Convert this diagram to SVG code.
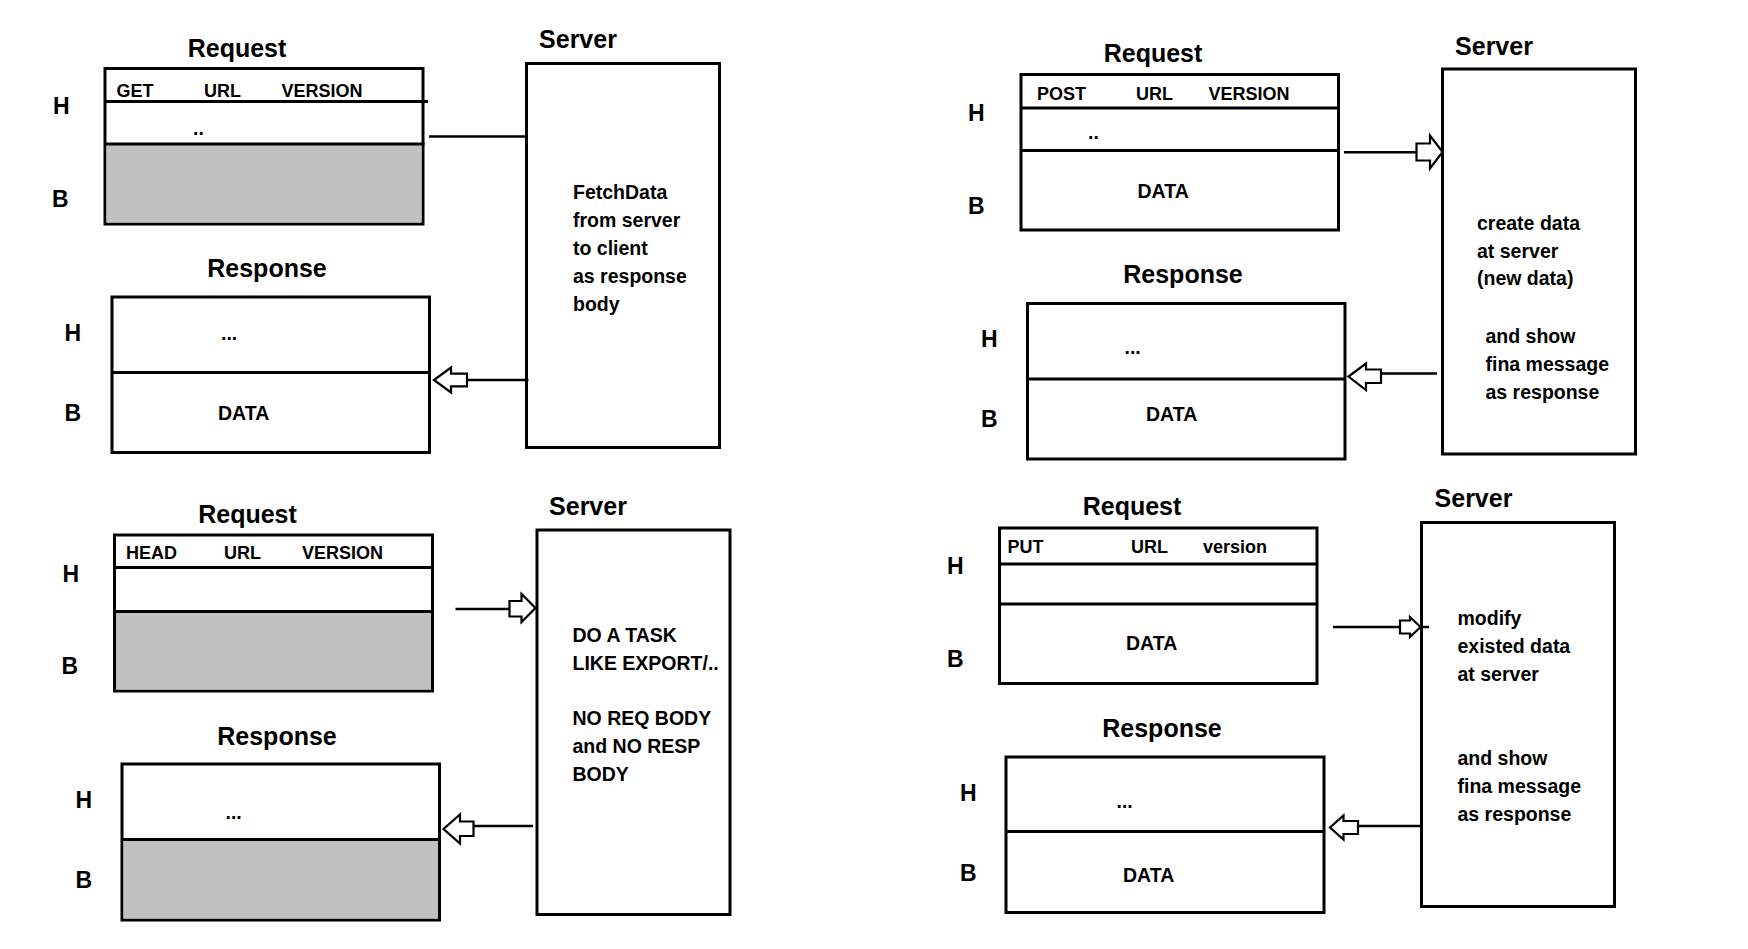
<svg xmlns="http://www.w3.org/2000/svg" width="1748" height="949" viewBox="0 0 1748 949">
<style>
text{font-family:"Liberation Sans",Arial,sans-serif;font-weight:bold;fill:#000}
.title{font-size:25px;text-anchor:middle}
.hb{font-size:23px}
.hdr{font-size:18px}
.cell{font-size:19.5px}
.srv{font-size:19.5px}
.box{fill:#fff;stroke:#000;stroke-width:3}
.gray{fill:#c0c0c0;stroke:none}
.div{stroke:#000;stroke-width:3}
.conn{stroke:#000;stroke-width:2.5;fill:none}
.arrow{fill:#fff;stroke:#000;stroke-width:2.2;stroke-linejoin:miter}
</style>
<rect width="1748" height="949" fill="#fff"/>

<!-- Panel 1: GET -->
<g id="get-request">
<text class="title" x="237" y="57">Request</text>
<rect class="box" x="105" y="68.5" width="318" height="155.5"/>
<rect class="gray" x="106.5" y="144" width="315" height="78.5"/>
<line class="div" x1="105" y1="101.5" x2="428" y2="101.5"/>
<line class="div" x1="105" y1="144" x2="424.5" y2="144"/>
<text class="hdr" x="116.5" y="96.5">GET</text>
<text class="hdr" x="204" y="96.5">URL</text>
<text class="hdr" x="281.5" y="96.5">VERSION</text>
<text class="cell" x="193" y="135">..</text>
<text class="hb" x="53" y="114">H</text>
<text class="hb" x="52" y="207">B</text>
</g>
<g id="get-server">
<text class="title" x="578" y="48">Server</text>
<rect class="box" x="526.5" y="63.5" width="193" height="384"/>
<text class="srv" x="573" y="198.5">FetchData</text>
<text class="srv" x="573" y="226.5">from server</text>
<text class="srv" x="573" y="254.5">to client</text>
<text class="srv" x="573" y="282.5">as response</text>
<text class="srv" x="573" y="310.5">body</text>
</g>
<g id="get-response">
<text class="title" x="267" y="277">Response</text>
<rect class="box" x="112" y="297" width="317.5" height="155.5"/>
<line class="div" x1="112" y1="372.5" x2="429.5" y2="372.5"/>
<text class="cell" x="221" y="340">...</text>
<text class="cell" x="218" y="420">DATA</text>
<text class="hb" x="64.5" y="341">H</text>
<text class="hb" x="64.5" y="421">B</text>
</g>

<!-- Panel 2: POST -->
<g id="post-request">
<text class="title" x="1153" y="61.5">Request</text>
<rect class="box" x="1021" y="74.5" width="317.5" height="155.5"/>
<line class="div" x1="1021" y1="108" x2="1338.5" y2="108"/>
<line class="div" x1="1021" y1="150.5" x2="1338.5" y2="150.5"/>
<text class="hdr" x="1037" y="100">POST</text>
<text class="hdr" x="1136" y="100">URL</text>
<text class="hdr" x="1208.5" y="100">VERSION</text>
<text class="cell" x="1088" y="138.5">..</text>
<text class="cell" x="1137.5" y="197.5">DATA</text>
<text class="hb" x="968" y="120.5">H</text>
<text class="hb" x="968" y="214">B</text>
</g>
<g id="post-server">
<text class="title" x="1494" y="55">Server</text>
<rect class="box" x="1442.5" y="69" width="193" height="385"/>
<text class="srv" x="1477" y="230">create data</text>
<text class="srv" x="1477" y="257.5">at server</text>
<text class="srv" x="1477" y="284.5">(new data)</text>
<text class="srv" x="1485.5" y="343">and show</text>
<text class="srv" x="1485.5" y="371">fina message</text>
<text class="srv" x="1485.5" y="399">as response</text>
</g>
<g id="post-response">
<text class="title" x="1183" y="283">Response</text>
<rect class="box" x="1027.5" y="303.5" width="317.5" height="155.5"/>
<line class="div" x1="1027.5" y1="379" x2="1345" y2="379"/>
<text class="cell" x="1124.5" y="353.5">...</text>
<text class="cell" x="1146" y="420.5">DATA</text>
<text class="hb" x="981" y="346.5">H</text>
<text class="hb" x="981" y="426.5">B</text>
</g>

<!-- Panel 3: HEAD -->
<g id="head-request">
<text class="title" x="247.5" y="523">Request</text>
<rect class="box" x="114.5" y="535" width="318" height="156"/>
<rect class="gray" x="116" y="611.5" width="315" height="78"/>
<line class="div" x1="114.5" y1="567.5" x2="432.5" y2="567.5"/>
<line class="div" x1="114.5" y1="611.5" x2="432.5" y2="611.5"/>
<text class="hdr" x="126" y="559">HEAD</text>
<text class="hdr" x="224" y="559">URL</text>
<text class="hdr" x="302" y="559">VERSION</text>
<text class="hb" x="62.5" y="581.5">H</text>
<text class="hb" x="61.5" y="674">B</text>
</g>
<g id="head-server">
<text class="title" x="588" y="515">Server</text>
<rect class="box" x="537" y="530" width="193" height="384.5"/>
<text class="srv" x="572.5" y="641.5">DO A TASK</text>
<text class="srv" x="572.5" y="669.5">LIKE EXPORT/..</text>
<text class="srv" x="572.5" y="725">NO REQ BODY</text>
<text class="srv" x="572.5" y="753">and NO RESP</text>
<text class="srv" x="572.5" y="781">BODY</text>
</g>
<g id="head-response">
<text class="title" x="277" y="745">Response</text>
<rect class="box" x="122" y="764" width="317.5" height="156"/>
<rect class="gray" x="123.5" y="839.5" width="314.5" height="79"/>
<line class="div" x1="122" y1="839.5" x2="439.5" y2="839.5"/>
<text class="cell" x="225.5" y="818.5">...</text>
<text class="hb" x="75.5" y="808">H</text>
<text class="hb" x="75.5" y="887.5">B</text>
</g>

<!-- Panel 4: PUT -->
<g id="put-request">
<text class="title" x="1132" y="515">Request</text>
<rect class="box" x="999.5" y="528" width="317.5" height="155.5"/>
<line class="div" x1="999.5" y1="564" x2="1317" y2="564"/>
<line class="div" x1="999.5" y1="604" x2="1317" y2="604"/>
<text class="hdr" x="1007.5" y="552.5">PUT</text>
<text class="hdr" x="1131" y="552.5">URL</text>
<text class="hdr" x="1203" y="552.5">version</text>
<text class="cell" x="1126" y="650">DATA</text>
<text class="hb" x="947" y="574">H</text>
<text class="hb" x="947" y="667">B</text>
</g>
<g id="put-server">
<text class="title" x="1473.5" y="507">Server</text>
<rect class="box" x="1421.5" y="522.5" width="193" height="384"/>
<text class="srv" x="1457.5" y="625">modify</text>
<text class="srv" x="1457.5" y="653">existed data</text>
<text class="srv" x="1457.5" y="681">at server</text>
<text class="srv" x="1457.5" y="765">and show</text>
<text class="srv" x="1457.5" y="792.5">fina message</text>
<text class="srv" x="1457.5" y="820.5">as response</text>
</g>
<g id="put-response">
<text class="title" x="1162" y="736.5">Response</text>
<rect class="box" x="1006" y="757" width="318" height="155.5"/>
<line class="div" x1="1006" y1="831.5" x2="1324" y2="831.5"/>
<text class="cell" x="1116.5" y="808">...</text>
<text class="cell" x="1123" y="881.5">DATA</text>
<text class="hb" x="960" y="801">H</text>
<text class="hb" x="960" y="880.5">B</text>
</g>

<g id="connectors">
<!-- GET -->
<line class="conn" x1="429" y1="136.5" x2="526.5" y2="136.5"/>
<line class="conn" x1="467" y1="380" x2="528.5" y2="380"/>
<polygon class="arrow" points="434,380 451,367.5 451,373.7 467,373.7 467,386.3 451,386.3 451,392.5"/>
<!-- POST -->
<line class="conn" x1="1344" y1="152.3" x2="1417" y2="152.3"/>
<polygon class="arrow" points="1442.5,152 1430,135.5 1430,143.5 1416.5,143.5 1416.5,160.5 1430,160.5 1430,168.5"/>
<line class="conn" x1="1381" y1="373.5" x2="1437" y2="373.5"/>
<polygon class="arrow" points="1348.5,376.5 1366,363.5 1366,369.5 1381,369.5 1381,383 1366,383 1366,390"/>
<!-- HEAD -->
<line class="conn" x1="455.5" y1="609" x2="510" y2="609"/>
<polygon class="arrow" points="535.5,608 521.5,594 521.5,601 509.5,601 509.5,616.5 521.5,616.5 521.5,622"/>
<line class="conn" x1="473.5" y1="826" x2="533" y2="826"/>
<polygon class="arrow" points="443.5,829 460,814.5 460,821.5 473.5,821.5 473.5,836 460,836 460,843.5"/>
<!-- PUT -->
<line class="conn" x1="1333" y1="627" x2="1429" y2="627"/>
<polygon class="arrow" points="1420.5,627 1410,617 1410,620.5 1400,620.5 1400,633.5 1410,633.5 1410,637"/>
<line class="conn" x1="1358" y1="826" x2="1421.5" y2="826"/>
<polygon class="arrow" points="1330,827.5 1343.5,815.5 1343.5,821 1358,821 1358,834 1343.5,834 1343.5,839.5"/>
</g>
</svg>
